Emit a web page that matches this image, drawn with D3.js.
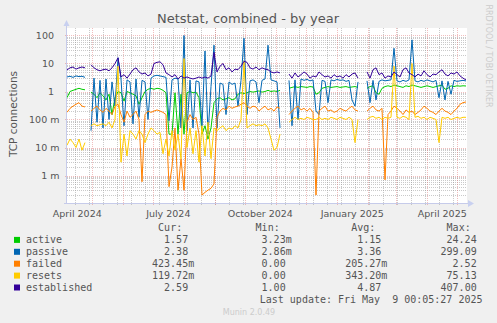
<!DOCTYPE html>
<html>
<head>
<meta charset="utf-8">
<script src="https://cdn.jsdelivr.net/npm/d3@7"></script>
<style>
  html, body { margin: 0; padding: 0; background: #F0F0F0; }
  svg { display: block; }
</style>
</head>
<body>
<svg id="chart" width="497" height="323"></svg>
<script>
// Netstat yearly history: one sample every 3 days starting 2024-04-05 17:00 UTC
const startTime = Date.UTC(2024, 3, 5, 17);
const stepDays = 3;

const active = [
  0.6, 1.0, 1.1, 1.2, 1.3, 1.2, 1.15, null, 0.95, 0.8,
  0.6, 0.9, 0.7, 0.5, 0.8, 0.15, 0.6, 1.0, 0.9, 0.45,
  1.0, 0.9, 0.8, 0.7, 0.35, 0.6, 1.0, 1.2, 1.3, 1.2,
  1.3, 1.25, 1.1, 0.9, 0.03, 0.03, 0.9, 0.03, 0.8, 0.03,
  0.9, 1.0, 0.9, 0.95, 0.6, 0.03, 0.06, 0.02, 0.05, 0.4,
  0.55, 0.6, 0.5, 0.55, 0.6, 0.5, 0.55, 0.8, 0.9, 0.85,
  0.9, 1.0, 0.95, 1.0, 1.05, 0.95, 1.0, 1.1, 1.0, 1.05,
  1.0, 1.1, null, null, 1.3, 1.4, 1.5, 1.4, 1.5, 1.45,
  1.4, 1.5, 1.45, 0.8, 0.9, 1.3, 1.4, 1.5, 1.4, 1.45,
  1.5, 1.4, 1.45, 1.5, 1.4, 1.45, 1.5, 1.4, null, null,
  1.3, 1.5, 1.6, 0.9, 0.8, 1.3, 1.5, 1.6, 1.5, 1.7,
  1.6, 1.5, 1.4, 1.6, 1.5, 1.7, 1.6, 1.5, 1.4, 1.5,
  1.6, 1.5, 1.4, 1.5, 1.6, 1.7, 1.2, 1.3, 1.6, 1.5,
  1.6, 1.55, 1.6, 1.57
];

const passive = [
  3.3, 3.5, 3.2, 3.6, 3.4, 3.5, 3.2, null, 0.04, 3,
  0.08, 2.5, 0.05, 2.8, 0.1, 2.2, 0.3, 16, 2.8, 0.06,
  2.6, 2.2, 0.07, 2.8, 0.12, 2.5, 2.2, 0.1, 3, 3.6,
  3.8, 3.6, 3.4, 3.2, 0.09, 2.6, 3, 2.8, 0.05, 100,
  0.04, 2.6, 0.05, 2.4, 2.2, 0.06, 28, 0.03, 1.5, 45,
  0.05, 2, 1.8, 0.15, 2.2, 1.8, 2, 0.3, 2.5, 80,
  0.15, 2.4, 2.6, 2.2, 0.4, 2.5, 2.8, 45, 2.6, 2.4,
  2.2, 0.05, null, null, 2.5, 0.06, 2.6, 0.1, 2.8, 2.5,
  2.7, 2.4, 2.6, 0.2, 0.15, 2.5, 2.3, 0.4, 2.6, 2.4,
  2.7, 2.5, 2.6, 2.3, 2.5, 0.5, 0.3, 2.2, null, null,
  2.4, 0.4, 2.5, 0.5, 2.3, 2.6, 2.4, 2.5, 2.6, 35,
  2.4, 2.2, 2.5, 2.3, 2.6, 70, 2.4, 2.2, 2.5, 2.3,
  2.6, 2.4, 2.2, 2.5, 0.6, 2.4, 0.5, 2.3, 0.8, 2.5,
  2.3, 2.4, 2.5, 2.38
];

const failed = [
  0.18, 0.25, 0.3, 0.35, 0.4, 0.3, 0.28, null, 0.2, 0.25,
  0.3, 0.22, 0.18, 0.25, 0.2, 0.15, 0.3, 0.35, 0.15, 0.08,
  0.2, 0.12, 0.15, 0.2, 0.1, 0.0006, 0.15, 0.2, 0.18, 0.2,
  0.22, 0.2, 0.18, 0.15, 0.0004, 0.002, 0.05, 0.0003, 0.004, 0.0003,
  0.08, 0.15, 0.1, 0.12, 0.03, 0.0002, 0.00025, 0.0003, 0.00035, 0.0005,
  0.12, 0.2, 0.25, 0.22, 0.3, 0.25, 0.28, 0.3, 0.35, 0.4,
  0.3, 0.25, 0.3, 0.28, 0.2, 0.25, 0.3, 0.22, 0.25, 0.2,
  0.28, 0.25, null, null, 0.15, 0.2, 0.25, 0.3, 0.22, 0.25,
  0.2, 0.25, 0.18, 0.0002, 0.2, 0.25, 0.3, 0.2, 0.22, 0.18,
  0.2, 0.25, 0.22, 0.2, 0.25, 0.3, 0.22, 0.2, null, null,
  0.2, 0.25, 0.3, 0.22, 0.2, 0.25, 0.0007, 0.15, 0.2, 0.3,
  0.25, 0.2, 0.15, 0.22, 0.18, 0.2, 0.15, 0.18, 0.22, 0.3,
  0.25, 0.2, 0.18, 0.15, 0.2, 0.25, 0.2, 0.18, 0.15, 0.2,
  0.25, 0.35, 0.4, 0.423
];

const resets = [
  0.012, 0.02, 0.015, 0.01, 0.02, 0.008, 0.015, null, 0.06, 0.07,
  0.06, 0.065, 0.07, 0.06, 0.08, 0.05, 0.1, 8, 0.003, 0.03,
  0.005, 0.04, 0.03, 0.02, 0.04, 0.03, 0.015, 0.03, 0.05, 0.04,
  0.03, 0.035, 0.006, 0.02, 0.005, 0.04, 0.008, 0.03, 0.004, 15,
  0.01, 0.05, 0.006, 0.04, 0.003, 0.06, 0.005, 0.08, 0.004, 0.05,
  0.04, 0.05, 0.06, 0.04, 0.05, 0.045, 0.06, 0.05, 0.1, 12,
  0.05, 0.06, 0.07, 0.06, 0.065, 0.06, 0.07, 0.05, 0.02, 0.008,
  0.01, 0.03, null, null, 0.08, 0.1, 0.12, 0.1, 0.11, 0.1,
  0.12, 0.11, 0.1, 0.1, 0.12, 0.1, 0.11, 0.1, 0.12, 0.11,
  0.1, 0.12, 0.11, 0.1, 0.12, 0.1, 0.015, 0.1, null, null,
  0.1, 0.12, 0.13, 0.11, 0.12, 0.1, 0.12, 0.11, 0.12, 8,
  0.12, 0.11, 0.13, 0.12, 0.1, 10, 0.12, 0.13, 0.11, 0.12,
  0.1, 0.12, 0.11, 0.1, 0.015, 0.12, 0.11, 0.12, 0.1, 0.11,
  0.12, 0.11, 0.12, 0.1197
];

const established = [
  5.9, 7, 7.5, 6.3, 7, 7.5, 7, null, 9, 7,
  6, 5.5, 6, 6.3, 5.5, 7, 10, 16, 3.3, 4,
  3, 4.2, 6, 7, 5, 4.2, 4.6, 3.6, 4.2, 10,
  11, 11.5, 9, 4.6, 4, 3.3, 4, 2.8, 3.6, 3,
  3.3, 3, 2.8, 3, 3.3, 3, 3.3, 3, 3.6, 25,
  5, 8, 10, 6, 7, 5, 6.3, 6, 8, 12,
  11, 7, 6.3, 7.5, 6, 7, 6.3, 6, 5, 4.6,
  5, 4.6, null, null, 4.2, 3, 4.6, 3.3, 4, 5,
  4.2, 3, 3.6, 3.3, 5, 4, 3.3, 3.6, 3, 4,
  3.3, 3.6, 3, 4, 3.3, 4.2, 4.6, 3, null, null,
  5, 3, 6, 7, 4, 4.6, 3, 3.6, 3.3, 5,
  4, 3.3, 6, 7, 4.6, 4, 3.3, 4.2, 3.6, 5.5,
  4, 3.3, 4.2, 4, 5, 6, 4.2, 3.6, 4.6, 4.2,
  5, 3.6, 3, 2.59
];

// Legend rows
const seriesNames  = ["active", "passive", "failed", "resets", "established"];
const seriesColors = ["#00CC00", "#0066B3", "#FF8000", "#FFCC00", "#330099"];
const curText = ["1.57", "2.38", "423.45m", "119.72m", "2.59"];
const minText = ["3.23m", "2.86m", "0.00", "0.00", "1.00"];
const avgText = ["1.15", "3.36", "205.27m", "343.20m", "4.87"];
const maxText = ["24.24", "299.09", "2.52", "75.13", "407.00"];

// Axis ticks
const yTickValues = [100, 10, 1, 0.1, 0.01, 0.001];
const yTickLabels = ["100", "10", "1", "100 m", "10 m", "1 m"];
const xLabelMonths = [new Date(Date.UTC(2024, 3, 1)), new Date(Date.UTC(2024, 6, 1)),
                      new Date(Date.UTC(2024, 9, 1)), new Date(Date.UTC(2025, 0, 1)),
                      new Date(Date.UTC(2025, 3, 1))];
const xLabelTexts = ["April 2024", "July 2024", "October 2024", "January 2025", "April 2025"];

const DAY = 864e5;
const seriesData = [active, passive, failed, resets, established];
const dates = active.map((_, i) => new Date(startTime + i * stepDays * DAY));

const W = 497, H = 323;
const plot = { left: 67, top: 28, right: 467, bottom: 203 };

const svg = d3.select("#chart");
svg.append("rect").attr("width", W).attr("height", H).attr("fill", "#F0F0F0");

const x = d3.scaleUtc()
  .domain([new Date(startTime), new Date(startTime + 400 * DAY)])
  .range([plot.left, plot.right]);

const y = d3.scaleLog()
  .domain([Math.pow(10, 2 - 167.5 / 28), Math.pow(10, 2 + 7.5 / 28)])
  .range([plot.bottom, plot.top]);

// canvas
svg.append("rect")
  .attr("x", plot.left).attr("y", plot.top)
  .attr("width", plot.right - plot.left).attr("height", plot.bottom - plot.top)
  .attr("fill", "#FFFFFF");

const grid = svg.append("g").attr("shape-rendering", "crispEdges");
const minorColor = "rgba(150,150,150,0.5)";
const majorColor = "rgba(225,110,110,0.45)";

// horizontal minor grid (2..9 of each decade)
const minorY = [];
for (let e = -4; e <= 2; e++) {
  for (let m = 2; m <= 9; m++) {
    const v = m * Math.pow(10, e);
    if (v > y.domain()[0] && v < y.domain()[1]) minorY.push(v);
  }
}
grid.selectAll("line.hmin").data(minorY).join("line")
  .attr("x1", plot.left).attr("x2", plot.right)
  .attr("y1", d => Math.round(y(d)) + 0.5).attr("y2", d => Math.round(y(d)) + 0.5)
  .attr("stroke", minorColor).attr("stroke-dasharray", "1,1");

// vertical minor grid: every second Sunday
const minorX = d3.utcDay.range(new Date(Date.UTC(2024, 3, 14)), x.domain()[1], 14);
grid.selectAll("line.vmin").data(minorX).join("line")
  .attr("x1", d => Math.round(x(d)) + 0.5).attr("x2", d => Math.round(x(d)) + 0.5)
  .attr("y1", plot.top).attr("y2", plot.bottom + 2)
  .attr("stroke", minorColor).attr("stroke-dasharray", "1,1");

// major grid: decades and month starts
grid.selectAll("line.hmaj").data(yTickValues).join("line")
  .attr("x1", plot.left - 2).attr("x2", plot.right)
  .attr("y1", d => Math.round(y(d)) + 0.5).attr("y2", d => Math.round(y(d)) + 0.5)
  .attr("stroke", majorColor).attr("stroke-dasharray", "1,1");

const monthStarts = d3.utcMonth.range(x.domain()[0], x.domain()[1]);
grid.selectAll("line.vmaj").data(monthStarts).join("line")
  .attr("x1", d => Math.round(x(d)) + 0.5).attr("x2", d => Math.round(x(d)) + 0.5)
  .attr("y1", plot.top).attr("y2", plot.bottom + 2)
  .attr("stroke", majorColor).attr("stroke-dasharray", "1,1");

// series lines
svg.append("clipPath").attr("id", "plotclip").append("rect")
  .attr("x", plot.left).attr("y", plot.top)
  .attr("width", plot.right - plot.left).attr("height", plot.bottom - plot.top);

const line = d3.line()
  .defined(d => d.v != null && d.v > 0)
  .x(d => x(d.t))
  .y(d => y(d.v));

const lines = svg.append("g").attr("clip-path", "url(#plotclip)");
seriesData.forEach((vals, si) => {
  const pts = vals.map((v, i) => ({ t: dates[i], v }));
  lines.append("path")
    .datum(pts)
    .attr("d", line)
    .attr("fill", "none")
    .attr("stroke", seriesColors[si])
    .attr("stroke-width", 1)
    .attr("stroke-linejoin", "miter");
});

// axes
const axisColor = "#C6CBEA";
svg.append("line").attr("x1", plot.left - 0.5).attr("x2", plot.left - 0.5)
  .attr("y1", plot.bottom + 1).attr("y2", 24)
  .attr("stroke", axisColor).attr("shape-rendering", "crispEdges");
svg.append("line").attr("x1", plot.left - 3).attr("x2", plot.right + 2)
  .attr("y1", plot.bottom + 0.5).attr("y2", plot.bottom + 0.5)
  .attr("stroke", axisColor).attr("shape-rendering", "crispEdges");
svg.append("path").attr("d", `M${plot.left - 3.5},26 L${plot.left + 2.5},26 L${plot.left - 0.5},20 Z`)
  .attr("fill", "#C8D0F0");
svg.append("path").attr("d", `M${plot.right + 1},200 L${plot.right + 1},207 L${plot.right + 7},203.5 Z`)
  .attr("fill", "#C8D0F0");

const textColor = "#555555";
const sans = "'DejaVu Sans', Verdana, sans-serif";
const mono = "'DejaVu Sans Mono', monospace";

// y tick labels
const yAxis = d3.axisLeft(y).tickValues(yTickValues)
  .tickFormat((d, i) => yTickLabels[i]).tickSize(0).tickPadding(0);
const yg = svg.append("g").call(yAxis);
yg.select(".domain").remove();
yg.selectAll("text")
  .attr("x", (d, i) => yTickLabels[i].endsWith("m") ? 59.5 : 54)
  .attr("dy", "0.35em")
  .attr("fill", textColor)
  .style("font-family", sans).style("font-size", "9.5px");

// x labels, centred half a month after the month start
svg.append("g").selectAll("text").data(xLabelMonths).join("text")
  .attr("x", d => x(new Date(+d + 15 * DAY)))
  .attr("y", 216.5)
  .attr("text-anchor", "middle")
  .attr("fill", textColor)
  .style("font-family", sans).style("font-size", "9.5px")
  .text((d, i) => xLabelTexts[i]);

// title
svg.append("text").attr("x", 248).attr("y", 23).attr("text-anchor", "middle")
  .attr("fill", textColor).style("font-family", sans).style("font-size", "13px")
  .text("Netstat, combined - by year");

// vertical axis title
svg.append("text").attr("transform", "translate(16.5,114) rotate(-90)")
  .attr("text-anchor", "middle").attr("fill", textColor)
  .style("font-family", sans).style("font-size", "10.5px")
  .text("TCP connections");

// side credit
svg.append("text").attr("transform", "translate(486,56) rotate(90)")
  .attr("text-anchor", "middle").attr("fill", "#CCCCCC")
  .style("font-family", sans).style("font-size", "8px")
  .text("RRDTOOL / TOBI OETIKER");

// legend
const legend = svg.append("g").style("font-family", mono).style("font-size", "10px").attr("fill", textColor);
const colEnds = [194.2, 291.7, 387.3, 482.7];
const headers = ["Cur:", "Min:", "Avg:", "Max:"];
const charW = 6.02;
const headerY = 231.3, rowStep = 11.9;

headers.forEach((h, i) => {
  legend.append("text").attr("x", colEnds[i] - 12).attr("y", headerY)
    .attr("text-anchor", "end").text(h);
});

const columns = [curText, minText, avgText, maxText];
seriesNames.forEach((name, r) => {
  const by = headerY + rowStep * (r + 1);
  legend.append("rect").attr("x", 14).attr("y", by - 6.3).attr("width", 6).attr("height", 6)
    .attr("fill", seriesColors[r]);
  legend.append("text").attr("x", 26).attr("y", by).text(name);
  columns.forEach((col, c) => {
    const s = col[r];
    legend.append("text")
      .attr("x", s.endsWith("m") ? colEnds[c] : colEnds[c] - charW)
      .attr("y", by).attr("text-anchor", "end").text(s);
  });
});

legend.append("text").attr("x", 482.5).attr("y", headerY + rowStep * 6)
  .attr("text-anchor", "end").attr("xml:space", "preserve").style("white-space", "pre")
  .text("Last update: Fri May  9 00:05:27 2025");

svg.append("text").attr("x", 249).attr("y", 314.5).attr("text-anchor", "middle")
  .attr("fill", "#CCCCCC").style("font-family", sans).style("font-size", "8px")
  .text("Munin 2.0.49");
</script>
</body>
</html>
